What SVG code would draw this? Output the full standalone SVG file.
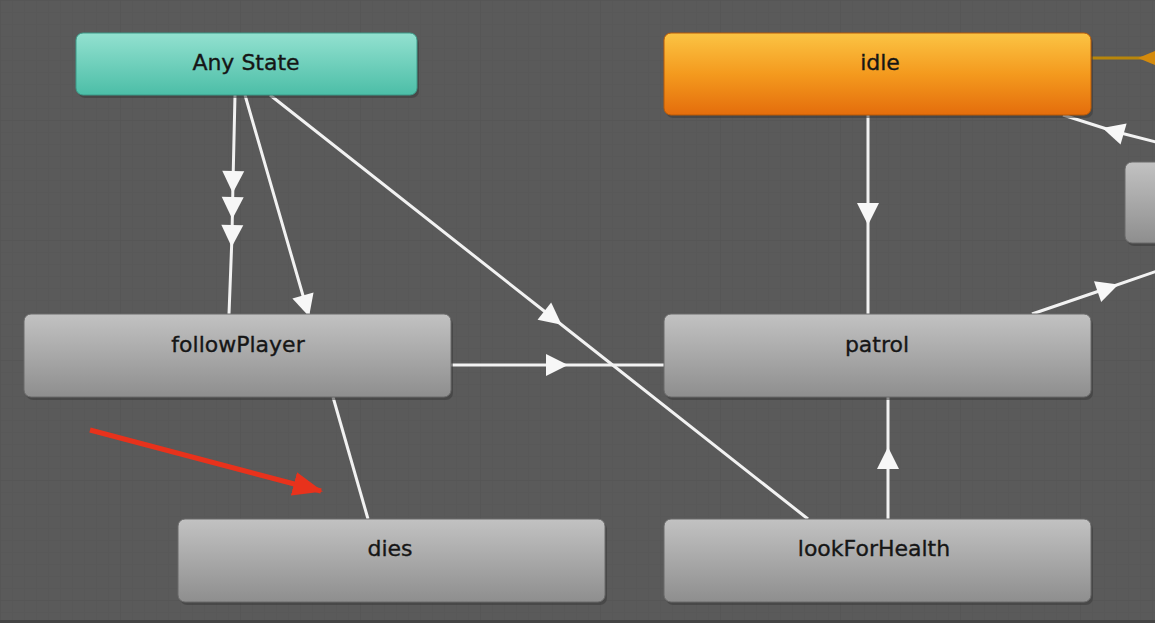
<svg xmlns="http://www.w3.org/2000/svg" width="1155" height="623" viewBox="0 0 1155 623">
<style>
  .lbl{font-family:"DejaVu Sans","Liberation Sans",sans-serif;font-size:22px;fill:#161616;stroke:#161616;stroke-width:0.35;text-anchor:middle}
  .edge{stroke:#f2f2f2;stroke-width:3;fill:none}
  .gray{fill:url(#gGray);stroke:#6a6a6a;stroke-width:1}
  .shadow{fill:#3a3a3a;opacity:0.55}
</style>
<defs>
  <pattern id="grid" width="12" height="12" patternUnits="userSpaceOnUse">
    <path d="M12 0 L0 0 0 12" fill="none" stroke="#565656" stroke-width="1"/>
  </pattern>
  <pattern id="gridMaj" width="120" height="120" patternUnits="userSpaceOnUse">
    <path d="M120 0 L0 0 0 120" fill="none" stroke="#535353" stroke-width="1"/>
  </pattern>
  <linearGradient id="gGray" x1="0" y1="0" x2="0" y2="1">
    <stop offset="0" stop-color="#c2c2c2"/>
    <stop offset="1" stop-color="#8e8e8e"/>
  </linearGradient>
  <linearGradient id="gTeal" x1="0" y1="0" x2="0" y2="1">
    <stop offset="0" stop-color="#93e1d0"/>
    <stop offset="1" stop-color="#4cbea7"/>
  </linearGradient>
  <linearGradient id="gOrange" x1="0" y1="0" x2="0" y2="1">
    <stop offset="0" stop-color="#fbc444"/>
    <stop offset="0.5" stop-color="#f49a1e"/>
    <stop offset="1" stop-color="#e46d0c"/>
  </linearGradient>
  <marker id="arr" viewBox="0 0 24 24" refX="12" refY="12" markerWidth="24" markerHeight="24" markerUnits="userSpaceOnUse" orient="auto">
    <path d="M1,1 L23,12 L1,23 Z" fill="#f7f7f7"/>
  </marker>
  <marker id="redArr" viewBox="0 0 30 24" refX="28" refY="12" markerWidth="30" markerHeight="24" markerUnits="userSpaceOnUse" orient="auto">
    <path d="M0,0 L30,12 L0,24 Z" fill="#e8321c"/>
  </marker>
</defs>

<rect x="0" y="0" width="1155" height="623" fill="#5a5a5a"/>
<rect x="0" y="0" width="1155" height="623" fill="url(#grid)"/>
<rect x="0" y="0" width="1155" height="623" fill="url(#gridMaj)"/>
<rect x="0" y="620" width="1155" height="3" fill="#444"/>

<g id="connectors">
  <path class="edge" d="M235,95 L233,182 L232.5,208 L232,236 L229,314" marker-mid="url(#arr)"/>
  <path class="edge" d="M245,95 L306,306 L310,320"  marker-mid="url(#arr)"/>
  <path class="edge" d="M270,95 L553,318 L808,519" marker-mid="url(#arr)"/>
  <path class="edge" d="M451,365 L557,365 L664,365" marker-mid="url(#arr)"/>
  <path class="edge" d="M868,115 L868,214 L868,314" marker-mid="url(#arr)"/>
  <path class="edge" d="M888,519 L888,458 L888,397" marker-mid="url(#arr)"/>
  <path class="edge" d="M333,397 L368,519"/>
  <path class="edge" d="M1032,314 L1108,288 L1160,270" marker-mid="url(#arr)"/>
  <path class="edge" d="M1160,143 L1113,131 L1063,115" marker-mid="url(#arr)"/>
  <path d="M1091,58 L1155,58" stroke="#b8860b" stroke-width="3" fill="none"/>
  <path d="M1138,58 L1155,51 L1155,65 Z" fill="#d48a0c"/>
  <path d="M90,430 L321,491" stroke="#e8321c" stroke-width="5" fill="none" marker-end="url(#redArr)"/>
</g>

<g id="node-anystate">
  <rect x="78" y="36" width="341" height="62" rx="7" class="shadow"/>
  <rect x="76" y="33" width="341" height="62" rx="7" fill="url(#gTeal)" stroke="#3d9a88" stroke-width="1"/>
  <text x="246" y="70" class="lbl">Any State</text>
</g>
<g id="node-idle">
  <rect x="666" y="36" width="427" height="82" rx="7" class="shadow"/>
  <rect x="664" y="33" width="427" height="82" rx="7" fill="url(#gOrange)" stroke="#b85a08" stroke-width="1"/>
  <text x="880" y="70" class="lbl">idle</text>
</g>
<g id="node-followPlayer">
  <rect x="26" y="317" width="427" height="83" rx="7" class="shadow"/>
  <rect x="24" y="314" width="427" height="83" rx="7" class="gray"/>
  <text x="238" y="352" class="lbl">followPlayer</text>
</g>
<g id="node-patrol">
  <rect x="666" y="317" width="427" height="83" rx="7" class="shadow"/>
  <rect x="664" y="314" width="427" height="83" rx="7" class="gray"/>
  <text x="877" y="352" class="lbl">patrol</text>
</g>
<g id="node-dies">
  <rect x="180" y="522" width="427" height="83" rx="7" class="shadow"/>
  <rect x="178" y="519" width="427" height="83" rx="7" class="gray"/>
  <text x="390" y="556" class="lbl">dies</text>
</g>
<g id="node-lookForHealth">
  <rect x="666" y="522" width="427" height="83" rx="7" class="shadow"/>
  <rect x="664" y="519" width="427" height="83" rx="7" class="gray"/>
  <text x="874" y="556" class="lbl">lookForHealth</text>
</g>
<g id="node-right">
  <rect x="1127" y="165" width="60" height="81" rx="7" class="shadow"/>
  <rect x="1125" y="162" width="60" height="81" rx="7" class="gray"/>
</g>
</svg>
